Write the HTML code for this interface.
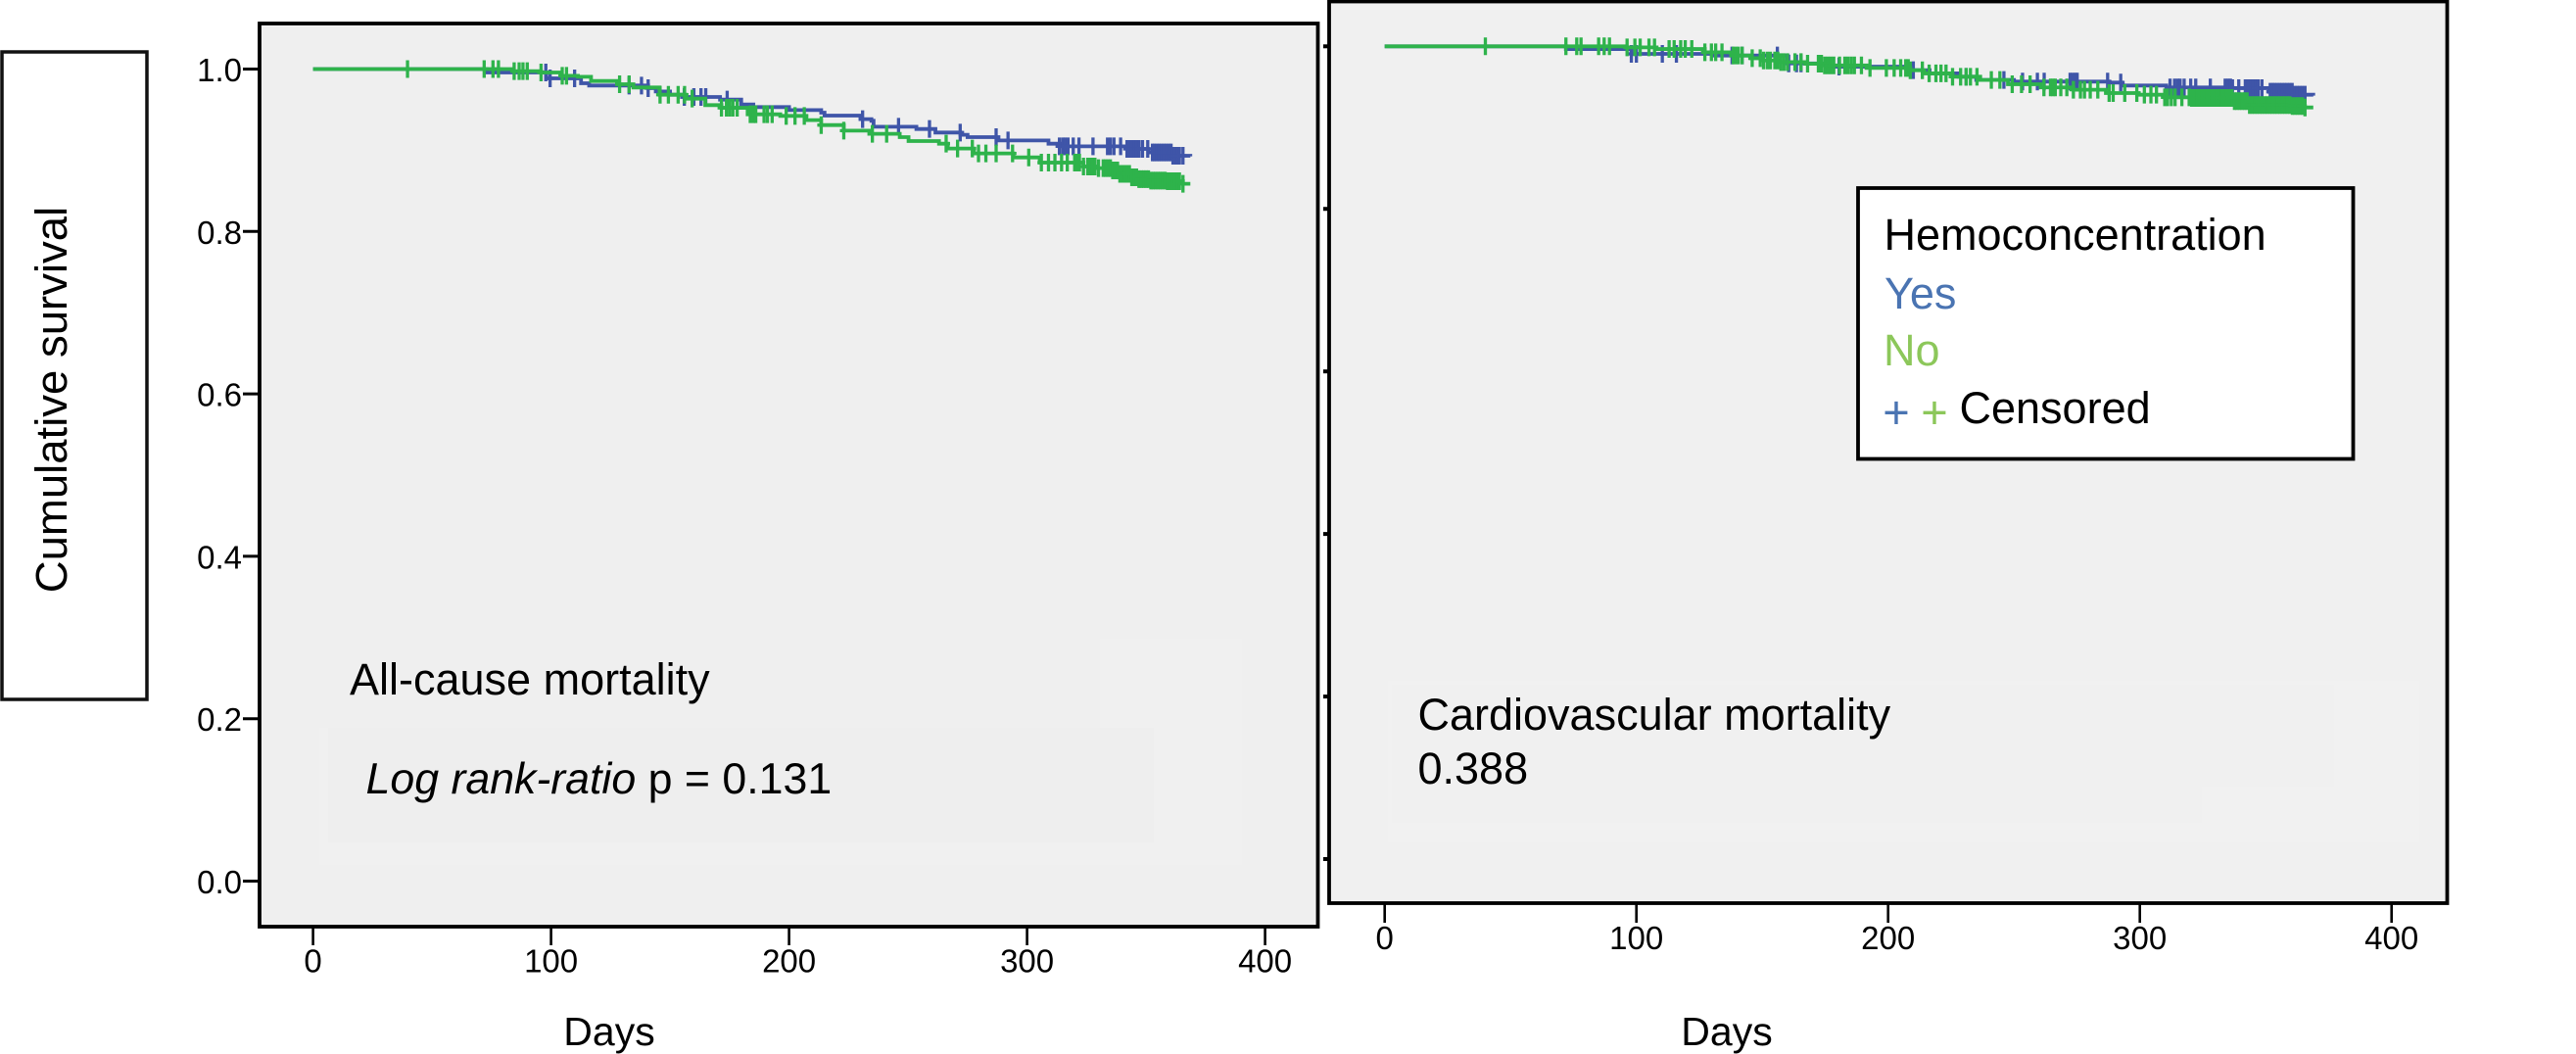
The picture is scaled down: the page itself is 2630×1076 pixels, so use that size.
<!DOCTYPE html>
<html lang="en">
<head>
<meta charset="utf-8">
<title>Survival by hemoconcentration</title>
<style>
html,body{margin:0;padding:0;background:#fff;}
svg{display:block;}
text{font-family:"Liberation Sans",Arial,sans-serif;fill:#000;}
</style>
</head>
<body>
<svg id="figure" xmlns="http://www.w3.org/2000/svg" width="2630" height="1076" viewBox="0 0 2630 1076">
  <rect x="2" y="53" width="148" height="661" fill="#fff" stroke="#111" stroke-width="3.5"/>
  <text transform="translate(68,408) rotate(-90)" text-anchor="middle" font-size="45.5">Cumulative survival</text>

  <rect x="265" y="24" width="1080.5" height="922" fill="#efefef"/>
  <g>
    <rect x="326" y="743" width="942" height="140" fill="#f0f0f0"/>
    <rect x="335" y="743" width="843" height="117" fill="#eeeeee"/>
    <rect x="1123" y="652" width="145" height="91" fill="#f0f0f0"/>
  </g>
  <rect x="1357" y="1.5" width="1141.5" height="920.5" fill="#f0f0f0"/>
  <g>
    <rect x="1417" y="695" width="1053" height="165" fill="#f1f1f1"/>
    <rect x="1421" y="699" width="827" height="141" fill="#f0f0f0"/>
    <rect x="2248" y="699" width="135" height="104" fill="#f0f0f0"/>
  </g>

  <g id="left-chart"></g>
  <g id="right-chart"></g>

  <rect x="265" y="24" width="1080.5" height="922" fill="none" stroke="#000" stroke-width="3.8"/>
  <rect x="1357" y="1.5" width="1141.5" height="920.5" fill="none" stroke="#000" stroke-width="3.8"/>

  <text x="357" y="709" font-size="45">All-cause mortality</text>
  <text x="373.5" y="810" font-size="44.7"><tspan font-style="italic">Log rank-ratio</tspan> p = 0.131</text>
  <text x="1447.5" y="745" font-size="45">Cardiovascular mortality</text>
  <text x="1447.5" y="800" font-size="45">0.388</text>

  <text x="622" y="1067" text-anchor="middle" font-size="41">Days</text>
  <text x="1763" y="1067" text-anchor="middle" font-size="41">Days</text>

  <g>
    <rect x="1897" y="192" width="505.5" height="276.5" fill="#fff" stroke="#000" stroke-width="3.8"/>
    <text x="1923.5" y="255" font-size="45">Hemoconcentration</text>
    <text x="1924" y="315" font-size="45" style="fill:#4a74b2">Yes</text>
    <text x="1923" y="373" font-size="45" style="fill:#8cc75a">No</text>
    <text x="1936" y="437" text-anchor="middle" font-size="47" style="fill:#4a74b2">+</text>
    <text x="1975" y="437" text-anchor="middle" font-size="47" style="fill:#8cc75a">+</text>
    <text x="2000.5" y="432" font-size="45">Censored</text>
  </g>
</svg>

<script>
// ---- shared axis data ----
var xTickValues = [0, 100, 200, 300, 400];
var yTickValues = [0, 0.2, 0.4, 0.6, 0.8, 1];
var yTickLabels = ['0.0', '0.2', '0.4', '0.6', '0.8', '1.0'];

// ---- all-cause mortality: Hemoconcentration = Yes ----
var leftYesDays = [0,72.9,98,112.6,116,140.8,144,150,155,171,179.9,185,200,213.5,214.9,230,234.6,235.5,253.5,261.5,272,275,288,309,313.6,342,351,361.3,368.6];
var leftYesSurvival = [1,0.9958,0.9885,0.9825,0.9797,0.9765,0.9724,0.9684,0.9656,0.9624,0.9564,0.9532,0.9495,0.9463,0.9427,0.9383,0.9363,0.929,0.9262,0.9218,0.919,0.9162,0.9121,0.9081,0.9049,0.9017,0.8973,0.8932,0.8925];
var leftYesCensored = [97.8,99.6,109.9,132.8,138,140.8,156,160,163,165,174,230.9,246,259,271.9,287,292,313.6,315,316,317.2,319.4,321.8,327.7,333.8,335,336.5,339.3,342,343,344,345,346,347,348.5,350.7,352.7,353.5,354.5,355.5,356.5,357.5,358.5,359.5,360.5,361.3,362,363,364,365.5];

// ---- all-cause mortality: Hemoconcentration = No ----
var leftNoDays = [0,83.8,95.8,104.4,111.3,116.8,127.7,134.6,145.6,156.6,164.8,171.6,182.6,196.3,207.3,213.5,223,233.7,246.5,250.2,263,266.7,277.7,294.3,305.3,323.7,329,335.6,339,343.9,347,351.2,358.6,365.5,368.6];
var leftNoSurvival = [1,0.9974,0.9958,0.9917,0.9905,0.9853,0.9813,0.9773,0.9684,0.9636,0.9556,0.9523,0.9443,0.9423,0.9371,0.931,0.9242,0.9202,0.9162,0.9113,0.9081,0.9021,0.8961,0.8912,0.8848,0.88,0.878,0.8752,0.871,0.8667,0.8645,0.8627,0.8619,0.8587,0.8587];
var leftNoCensored = [39.7,71.9,75.6,77.9,84.5,86.6,88.2,90,95.8,104.7,106.5,128.8,132.8,145.8,149.3,153.4,156.1,159.3,171.6,173.7,175,176.4,178.2,183.7,185,186,189.5,190.9,192.9,198.8,202.5,206.4,213.5,223,235,241,266,270.8,277,279.6,282.7,287,293.9,300.7,306,309,311.7,314.5,316.9,320,321,322,323.7,325.5,326.5,327.5,328.5,330,332,333,334,335,336,337,338,339,340,341,342,343,344,345,346,347,348,349,350,351,352,353,354,355,356,357,358,359,360,361,362,363,364,365.5];

// ---- cardiovascular mortality: Hemoconcentration = Yes ----
var rightYesDays = [0,72,98,130,160,175,209,216.5,228,235,250,287.8,293,310.5,336.5,351.4,361,368.9];
var rightYesSurvival = [1,0.9967,0.9907,0.9887,0.979,0.975,0.9707,0.9667,0.9626,0.9586,0.9566,0.9554,0.9518,0.9494,0.9486,0.9441,0.9405,0.9393];
var rightYesCensored = [98,100,110.3,115.9,138,142,156,160.5,163.6,165.4,180.5,210,231,246,253.4,259.3,262,272.3,273.3,274.3,275.1,287.2,292.4,312,313.8,315,316,317.6,320.2,322.2,328,333.9,335,336,336.8,339.3,341.9,343,344,345,346,347,348.5,351.8,352.7,353.5,354.5,355.5,356.5,357.5,358.5,359.5,360.5,361.5,362.5,363.5,364.5,365.6];

// ---- cardiovascular mortality: Hemoconcentration = No ----
var rightNoDays = [0,95.9,108,127.2,137.6,145.4,149.8,156.7,167.1,174,191.4,208.8,213.9,225.6,236.6,247.6,260.6,273.6,286.5,299.5,309.9,320.2,337.1,343.6,360.4,365.6,368.9];
var rightNoSurvival = [1,0.9987,0.9967,0.9927,0.9887,0.9854,0.9826,0.9806,0.9786,0.9766,0.9734,0.9706,0.9667,0.9626,0.9586,0.9534,0.9494,0.9466,0.9425,0.9405,0.9373,0.9365,0.9325,0.9277,0.9265,0.9248,0.9248];
var rightNoCensored = [40,72,76.3,78,85,87.2,89.3,96.3,99.4,101.5,105,107.2,113,115,117.6,119.4,122,127.2,129.8,131.5,134,138.5,139.5,140.5,142,146,149.2,150.5,152,153.2,155,156.2,157.4,158.6,160,163,165.4,168,172.3,173.5,174.8,176,177.2,178.4,180.7,182.8,184,185.3,186.6,189.4,192.8,199.3,202.4,205,207,208,208.8,213.6,216.3,219,221,223,225.6,228.8,231,232.7,235.3,241,244.4,249.3,253,256.4,261.9,264.5,265.5,266.4,268.6,271,273.6,276.4,278,280.3,283.3,287.8,289.4,294,298.8,301.8,304.4,306.6,309.9,311,312.5,314,316.7,319.6,320.6,321.6,322.6,323.6,324.6,325.6,326.6,327.6,328.6,329.6,330.6,331.6,332.6,333.6,334.6,335.6,336.6,337.6,338.6,339.6,340.6,341.6,342.6,343.6,344.6,345.6,346.6,347.6,348.6,349.6,350.6,351.6,352.6,353.6,354.6,355.6,356.6,357.6,358.6,359.6,360.6,361.6,362.6,363.6,364.6,365.6];

var SVG_NS = 'http://www.w3.org/2000/svg';
var BLUE = '#3f55a8';
var GREEN = '#2eb34b';

function make(tag, parent) {
  var el = document.createElementNS(SVG_NS, tag);
  parent.appendChild(el);
  return el;
}

// axis functions
function xLeft(d) { return 319.6 + d * 2.43; }
function yLeft(s) { return 899.5 - s * 829; }
function xRight(d) { return 1413.7 + d * 2.57; }
function yRight(s) { return 877 - s * 829.7; }

function survivalAt(days, surv, t) {
  var i = 0;
  while (i + 1 < days.length && days[i + 1] <= t) { i++; }
  return surv[i];
}

function drawCurve(group, days, surv, censored, xf, yf, color, label) {
  var d = 'M' + xf(days[0]) + ' ' + yf(surv[0]);
  for (var i = 1; i < days.length; i++) {
    d += ' H' + xf(days[i]) + ' V' + yf(surv[i]);
  }
  var line = make('path', group);
  
  
  line.setAttribute('d', d);
  line.setAttribute('fill', 'none');
  line.setAttribute('stroke', color);
  line.setAttribute('stroke-width', '3.8');
  for (var j = 0; j < censored.length; j++) {
    var cx = xf(censored[j]);
    var cy = yf(survivalAt(days, surv, censored[j]));
    var mark = make('path', group);
    
    
    mark.setAttribute('d', 'M' + (cx - 4) + ' ' + cy + ' H' + (cx + 4) + ' M' + cx + ' ' + (cy - 9) + ' V' + (cy + 9));
    mark.setAttribute('fill', 'none');
    mark.setAttribute('stroke', color);
    mark.setAttribute('stroke-width', '3.3');
  }
}

function drawXAxis(group, xf, y0, y1, yLabel, label) {
  for (var i = 0; i < xTickValues.length; i++) {
    var px = xf(xTickValues[i]);
    var tick = make('line', group);
    
    
    tick.setAttribute('x1', px);
    tick.setAttribute('x2', px);
    tick.setAttribute('y1', y0);
    tick.setAttribute('y2', y1);
    tick.setAttribute('stroke', '#000');
    tick.setAttribute('stroke-width', '2.6');
    var txt = make('text', group);
    
    
    txt.setAttribute('x', px);
    txt.setAttribute('y', yLabel);
    txt.setAttribute('text-anchor', 'middle');
    txt.setAttribute('font-size', '33');
    txt.textContent = String(xTickValues[i]);
  }
}

var leftGroup = document.getElementById('left-chart');
var rightGroup = document.getElementById('right-chart');

// left y axis with labels
for (var a = 0; a < yTickValues.length; a++) {
  var ly = yLeft(yTickValues[a]);
  var lt = make('line', leftGroup);
  
  
  lt.setAttribute('x1', 248);
  lt.setAttribute('x2', 265);
  lt.setAttribute('y1', ly);
  lt.setAttribute('y2', ly);
  lt.setAttribute('stroke', '#000');
  lt.setAttribute('stroke-width', '3');
  var ll = make('text', leftGroup);
  
  
  ll.setAttribute('x', 247);
  ll.setAttribute('y', ly + 12.5);
  ll.setAttribute('text-anchor', 'end');
  ll.setAttribute('font-size', '33');
  ll.textContent = yTickLabels[a];
}

// right y axis: stubs only
for (var b = 0; b < yTickValues.length; b++) {
  var ry = yRight(yTickValues[b]);
  var rt = make('line', rightGroup);
  
  
  rt.setAttribute('x1', 1351);
  rt.setAttribute('x2', 1357);
  rt.setAttribute('y1', ry);
  rt.setAttribute('y2', ry);
  rt.setAttribute('stroke', '#000');
  rt.setAttribute('stroke-width', '4');
}

drawXAxis(leftGroup, xLeft, 946, 965, 992.5, 'left');
drawXAxis(rightGroup, xRight, 922, 942, 969, 'right');

drawCurve(leftGroup, leftYesDays, leftYesSurvival, leftYesCensored, xLeft, yLeft, BLUE, 'left-yes');
drawCurve(leftGroup, leftNoDays, leftNoSurvival, leftNoCensored, xLeft, yLeft, GREEN, 'left-no');
drawCurve(rightGroup, rightYesDays, rightYesSurvival, rightYesCensored, xRight, yRight, BLUE, 'right-yes');
drawCurve(rightGroup, rightNoDays, rightNoSurvival, rightNoCensored, xRight, yRight, GREEN, 'right-no');
</script>
</body>
</html>
